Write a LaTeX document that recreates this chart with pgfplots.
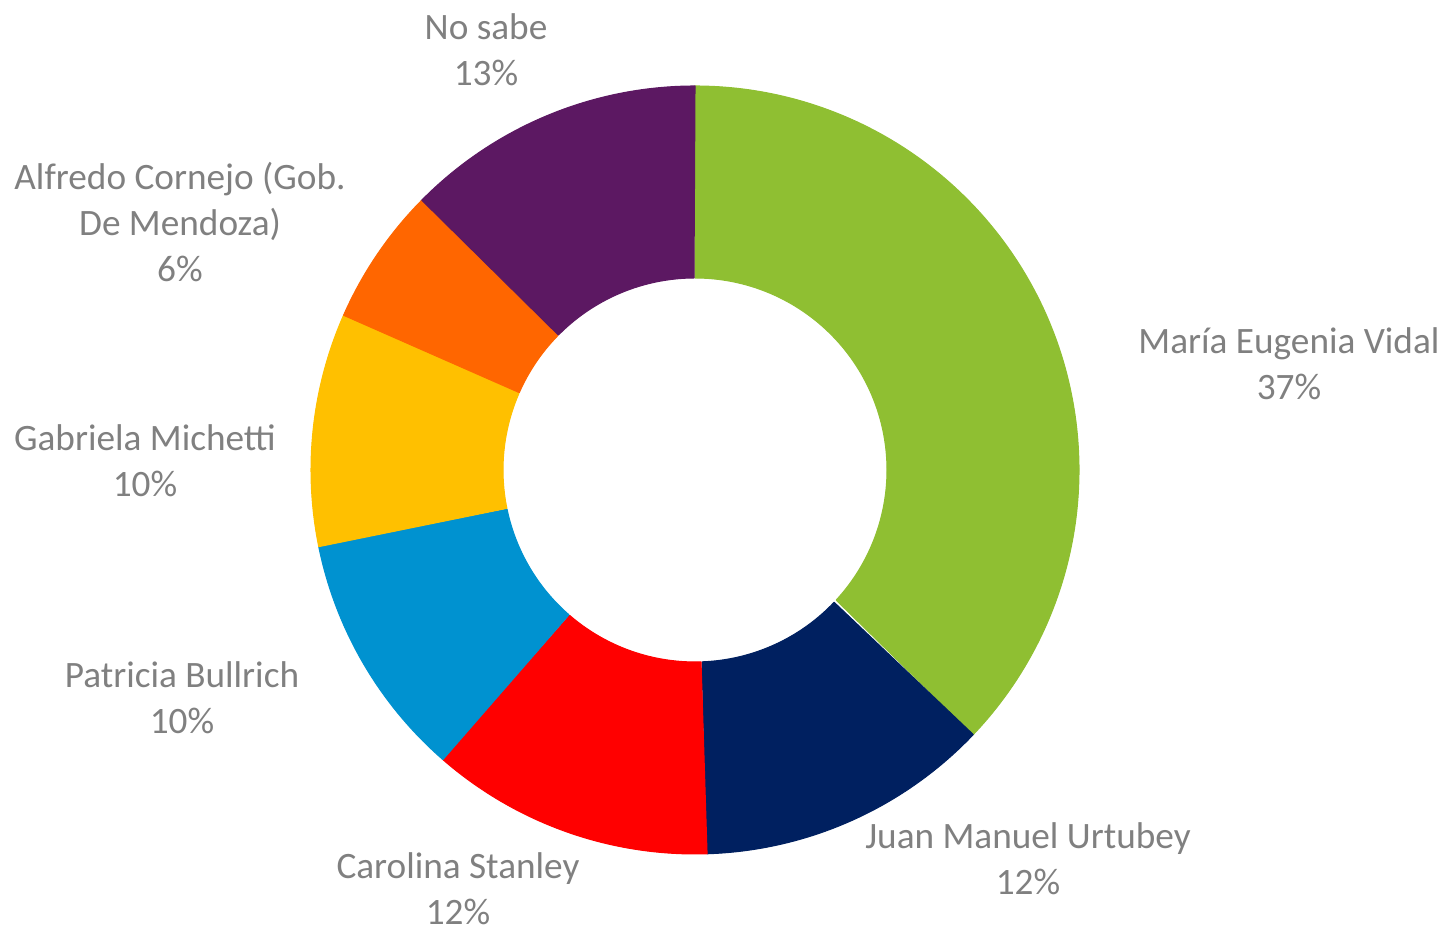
\documentclass[border=0pt]{standalone}
\usepackage{pgfplots}
\pgfplotsset{compat=1.18}
\usepackage{fontspec}
\setmainfont{Carlito}
\definecolor{cVidal}{HTML}{8FBF32}
\definecolor{cUrtubey}{HTML}{002060}
\definecolor{cStanley}{HTML}{FF0000}
\definecolor{cBullrich}{HTML}{0092D0}
\definecolor{cMichetti}{HTML}{FFC000}
\definecolor{cCornejo}{HTML}{FF6600}
\definecolor{cNoSabe}{HTML}{5C1862}
\definecolor{labelgray}{HTML}{808080}
\tikzset{lbl/.style={font=\fontsize{10.6}{13}\selectfont, text=labelgray, align=center, inner sep=0pt}}
% donut geometry (axis units = pixels)
\def\cx{695}\def\cy{460}\def\Ro{384}\def\Ri{192}
\gdef\cum{0}
\newcommand\slice[2]{% #1 value (%), #2 colour
  \edef\temp{\noexpand\addplot[fill=#2, draw=#2, line width=0.3pt, line join=bevel, domain=0:2, samples=301, variable=\noexpand\t]
   ({\cx+ifthenelse(\noexpand\t<=1,\Ro,\Ri)*cos(90-3.6*(\cum+#1*ifthenelse(\noexpand\t<=1,\noexpand\t,2-\noexpand\t)))},
    {\cy+ifthenelse(\noexpand\t<=1,\Ro,\Ri)*sin(90-3.6*(\cum+#1*ifthenelse(\noexpand\t<=1,\noexpand\t,2-\noexpand\t)))}) -- cycle;}%
  \temp
  \pgfmathsetmacro\newcum{\cum+#1}\xdef\cum{\newcum}%
}
\begin{document}
\begin{tikzpicture}
\begin{axis}[
  scale only axis, width=14.44cm, height=9.30cm,
  xmin=0, xmax=1444, ymin=0, ymax=930,
  hide axis, clip=false,
]
\path (rel axis cs:0,0) rectangle (rel axis cs:1,1);
\slice{37.1}{cVidal}
\slice{12.4}{cUrtubey}
\slice{11.9}{cStanley}
\slice{10.4}{cBullrich}
\slice{9.8}{cMichetti}
\slice{5.8}{cCornejo}
\slice{12.6}{cNoSabe}
\node[lbl] at (axis cs:486,880) {No sabe\\13\%};
\node[lbl] at (axis cs:180,708) {Alfredo Cornejo (Gob.\\De Mendoza)\\6\%};
\node[lbl] at (axis cs:1289,566) {María Eugenia Vidal\\37\%};
\node[lbl] at (axis cs:145,469) {Gabriela Michetti\\10\%};
\node[lbl] at (axis cs:182,232) {Patricia Bullrich\\10\%};
\node[lbl] at (axis cs:458,41) {Carolina Stanley\\12\%};
\node[lbl] at (axis cs:1028,71) {Juan Manuel Urtubey\\12\%};
\end{axis}
\end{tikzpicture}
\end{document}
